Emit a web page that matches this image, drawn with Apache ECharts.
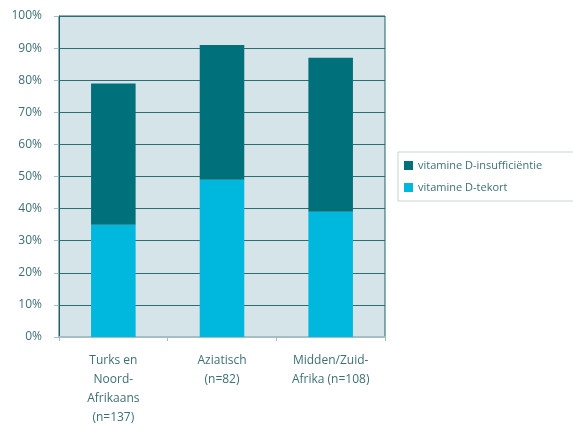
<!DOCTYPE html>
<html><head><meta charset="utf-8">
<script src="https://cdn.jsdelivr.net/npm/echarts@6/dist/echarts.min.js"></script>
<style>html,body{margin:0;padding:0;background:#fff}#c{width:573px;height:426px}</style>
</head><body><div id="c"></div>
<script>
var categories = ["Turks en\nNoord-\nAfrikaans\n(n=137)", "Aziatisch\n(n=82)", "Midden/Zuid-\nAfrika (n=108)"];
var tekort = [35, 49, 39];          // vitamine D-tekort (%)
var insufficientie = [44, 42, 48];  // vitamine D-insufficiëntie (%), stacked on top
var yTicks = [0, 10, 20, 30, 40, 50, 60, 70, 80, 90, 100];

var textColor = '#3d6f76';
var font = 'Open Sans';
var chart = echarts.init(document.getElementById('c'));
chart.setOption({
  animation: false,
  textStyle: {fontFamily: font},
  grid: {left: 59, right: 188, top: 16, bottom: 89, show: true, containLabel: false,
         outerBoundsMode: 'none',
         backgroundColor: '#d4e4e9', borderColor: '#1f6068', borderWidth: 1},
  legend: {
    orient: 'vertical', left: 398, top: 152,
    data: ['vitamine D-insufficiëntie', 'vitamine D-tekort'],
    icon: 'rect', itemWidth: 9, itemHeight: 9, itemGap: 11,
    borderColor: '#c9d2d3', borderWidth: 1, padding: [8, 60, 8, 6],
    textStyle: {color: textColor, fontSize: 11, fontFamily: font}
  },
  xAxis: {
    type: 'category', data: categories,
    axisLine: {lineStyle: {color: '#a3bec5', width: 2}},
    axisTick: {show: true, length: 4, lineStyle: {color: '#a3bec5'}},
    axisLabel: {color: textColor, fontSize: 12, lineHeight: 19, margin: 14, fontFamily: font}
  },
  yAxis: {
    type: 'value', min: yTicks[0], max: yTicks[yTicks.length - 1], interval: 10,
    axisLine: {show: true, lineStyle: {color: '#1f6068', width: 1}},
    axisTick: {show: true, length: 5, lineStyle: {color: '#a3bec5'}},
    axisLabel: {color: textColor, fontSize: 12, margin: 17, formatter: '{value}%', fontFamily: font},
    splitLine: {show: true, lineStyle: {color: '#2d6d74', width: 1}}
  },
  series: [
    {name: 'vitamine D-tekort', type: 'bar', stack: 't', data: tekort, barWidth: '41%',
     itemStyle: {color: '#00b7de'}},
    {name: 'vitamine D-insufficiëntie', type: 'bar', stack: 't', data: insufficientie, barWidth: '41%',
     itemStyle: {color: '#00707a'}}
  ]
});
</script></body></html>
